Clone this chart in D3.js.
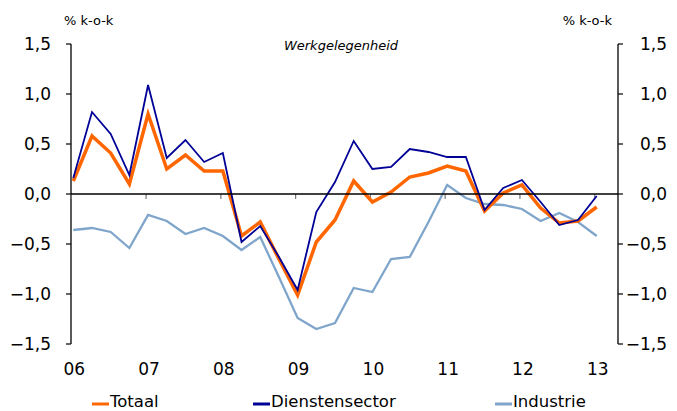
<!DOCTYPE html>
<meta charset="utf-8">
<style>
body { margin: 0; background: #fff; }
text { font-family: "DejaVu Sans", Verdana, sans-serif; fill: #000; }
.line { fill: none; stroke-linejoin: miter; }
</style>
<body>
<script src="https://d3js.org/d3.v7.min.js"></script>
<script>
// Werkgelegenheid, % k-o-k, 2006Q1 .. 2013Q1
var yearLabels = ["06", "07", "08", "09", "10", "11", "12", "13"];
var yTicks = [-1.5, -1.0, -0.5, 0.0, 0.5, 1.0, 1.5];

var totaal = [0.13, 0.58, 0.41, 0.10, 0.80, 0.25, 0.39, 0.23, 0.23, -0.42,
              -0.28, -0.65, -1.01, -0.48, -0.26, 0.13, -0.08, 0.02, 0.17, 0.21,
              0.28, 0.23, -0.17, 0.01, 0.09, -0.14, -0.29, -0.27, -0.13];
var diensten = [0.16, 0.82, 0.60, 0.19, 1.09, 0.36, 0.54, 0.32, 0.41, -0.48,
                -0.32, -0.63, -0.96, -0.18, 0.12, 0.53, 0.25, 0.27, 0.45, 0.42,
                0.37, 0.37, -0.16, 0.06, 0.14, -0.08, -0.31, -0.26, -0.02];
var industrie = [-0.36, -0.34, -0.38, -0.54, -0.21, -0.27, -0.40, -0.34, -0.42, -0.56,
                 -0.43, -0.83, -1.24, -1.35, -1.29, -0.94, -0.98, -0.65, -0.63, -0.28,
                 0.09, -0.04, -0.10, -0.11, -0.15, -0.27, -0.19, -0.28, -0.42];

var series = [
  {name: "Industrie", values: industrie, color: "#7FA5CB", width: 2.3},
  {name: "Totaal", values: totaal, color: "#FF6600", width: 3.5},
  {name: "Dienstensector", values: diensten, color: "#000096", width: 1.8}
];

var width = 677, height = 411;
var axisL = 71, axisR = 618;

var svg = d3.select("body").append("svg")
    .attr("width", width)
    .attr("height", height);

var x = d3.scaleLinear().domain([0, totaal.length - 1]).range([73.3, 596.7]);
var y = d3.scaleLinear().domain([-1.5, 1.5]).range([344, 44]);

var fmt = function(d) { return d3.format(".1f")(d).replace(".", ","); };

// left axis
svg.append("line")
    .attr("x1", axisL).attr("x2", axisL)
    .attr("y1", y(1.5)).attr("y2", y(-1.5))
    .attr("stroke", "#000").attr("stroke-width", 1.3);
svg.selectAll(".ltick").data(yTicks).enter().append("line")
    .attr("x1", axisL - 5).attr("x2", axisL)
    .attr("y1", function(d) { return y(d); }).attr("y2", function(d) { return y(d); })
    .attr("stroke", "#000").attr("stroke-width", 1.2);
svg.selectAll(".llab").data(yTicks).enter().append("text")
    .attr("x", 51).attr("y", function(d) { return y(d) + 6; })
    .attr("text-anchor", "end")
    .style("font-size", "17px")
    .text(fmt);

// right axis
svg.append("line")
    .attr("x1", axisR).attr("x2", axisR)
    .attr("y1", y(1.5)).attr("y2", y(-1.5))
    .attr("stroke", "#000").attr("stroke-width", 1.3);
svg.selectAll(".rtick").data(yTicks).enter().append("line")
    .attr("x1", axisR).attr("x2", axisR + 5)
    .attr("y1", function(d) { return y(d); }).attr("y2", function(d) { return y(d); })
    .attr("stroke", "#000").attr("stroke-width", 1.2);
svg.selectAll(".rlab").data(yTicks).enter().append("text")
    .attr("x", 667).attr("y", function(d) { return y(d) + 6; })
    .attr("text-anchor", "end")
    .style("font-size", "17px")
    .text(fmt);

// x axis on zero line
svg.selectAll(".xtick").data(yearLabels).enter().append("line")
    .attr("x1", function(d, i) { return x(i * 4) - 2; })
    .attr("x2", function(d, i) { return x(i * 4) - 2; })
    .attr("y1", y(0)).attr("y2", y(0) + 5)
    .attr("stroke", "#777").attr("stroke-width", 1.2);
svg.selectAll(".xlab").data(yearLabels).enter().append("text")
    .attr("x", function(d, i) { return x(i * 4) + 1; })
    .attr("y", 375)
    .attr("text-anchor", "middle")
    .style("font-size", "17px")
    .text(function(d) { return d; });

// unit labels and title
svg.append("text").attr("x", 64).attr("y", 25).style("font-size", "13px").text("% k-o-k");
svg.append("text").attr("x", 612).attr("y", 25).attr("text-anchor", "end").style("font-size", "13px").text("% k-o-k");
svg.append("text").attr("x", 341).attr("y", 50).attr("text-anchor", "middle")
    .style("font-size", "13px").style("font-style", "italic").text("Werkgelegenheid");

// lines
var line = d3.line()
    .x(function(d, i) { return x(i); })
    .y(function(d) { return y(d); });

svg.selectAll(".line").data(series).enter().append("path")
    .attr("class", "line")
    .attr("stroke", function(d) { return d.color; })
    .attr("stroke-width", function(d) { return d.width; })
    .attr("d", function(d) { return line(d.values); });

svg.append("line")
    .attr("x1", axisL).attr("x2", axisR)
    .attr("y1", y(0)).attr("y2", y(0))
    .attr("stroke", "#000").attr("stroke-width", 1.3);

// legend
var legend = [
  {name: "Totaal", color: "#FF6600", x: 92},
  {name: "Dienstensector", color: "#000096", x: 253},
  {name: "Industrie", color: "#7FA5CB", x: 495}
];
var lg = svg.selectAll(".leg").data(legend).enter().append("g")
    .attr("transform", function(d) { return "translate(" + d.x + ",0)"; });
lg.append("line")
    .attr("x1", 0).attr("x2", 17).attr("y1", 404).attr("y2", 404)
    .attr("stroke", function(d) { return d.color; }).attr("stroke-width", 3);
lg.append("text")
    .attr("x", 18).attr("y", 407)
    .style("font-size", "16.5px")
    .text(function(d) { return d.name; });
</script>
</body>
